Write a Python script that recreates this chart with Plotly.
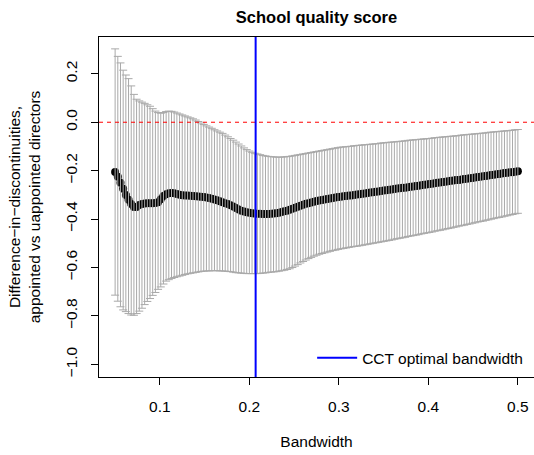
import plotly.graph_objects as go

# ---------------- data ----------------
bandwidth = [
    0.050, 0.053, 0.056, 0.059, 0.062, 0.065, 0.068, 0.071, 0.074, 0.077,
    0.080, 0.083, 0.086, 0.089, 0.092, 0.095, 0.098, 0.101, 0.104, 0.107,
    0.110, 0.113, 0.116, 0.119, 0.122, 0.125, 0.128, 0.131, 0.134, 0.137,
    0.140, 0.143, 0.146, 0.149, 0.152, 0.155, 0.158, 0.161, 0.164, 0.167,
    0.170, 0.173, 0.176, 0.179, 0.182, 0.185, 0.188, 0.191, 0.194, 0.197,
    0.200, 0.203, 0.206, 0.209, 0.212, 0.215, 0.218, 0.221, 0.224, 0.227,
    0.230, 0.233, 0.236, 0.239, 0.242, 0.245, 0.248, 0.251, 0.254, 0.257,
    0.260, 0.263, 0.266, 0.269, 0.272, 0.275, 0.278, 0.281, 0.284, 0.287,
    0.290, 0.293, 0.296, 0.299, 0.302, 0.305, 0.308, 0.311, 0.314, 0.317,
    0.320, 0.323, 0.326, 0.329, 0.332, 0.335, 0.338, 0.341, 0.344, 0.347,
    0.350, 0.353, 0.356, 0.359, 0.362, 0.365, 0.368, 0.371, 0.374, 0.377,
    0.380, 0.383, 0.386, 0.389, 0.392, 0.395, 0.398, 0.401, 0.404, 0.407,
    0.410, 0.413, 0.416, 0.419, 0.422, 0.425, 0.428, 0.431, 0.434, 0.437,
    0.440, 0.443, 0.446, 0.449, 0.452, 0.455, 0.458, 0.461, 0.464, 0.467,
    0.470, 0.473, 0.476, 0.479, 0.482, 0.485, 0.488, 0.491, 0.494, 0.497,
    0.500,
]

estimate = [
    -0.205, -0.225, -0.250, -0.275, -0.300, -0.320, -0.338, -0.350, -0.350, -0.342,
    -0.338, -0.336, -0.335, -0.334, -0.334, -0.333, -0.330, -0.318, -0.305, -0.297,
    -0.293, -0.292, -0.293, -0.296, -0.299, -0.301, -0.302, -0.303, -0.304, -0.305,
    -0.306, -0.307, -0.308, -0.309, -0.311, -0.313, -0.316, -0.319, -0.322, -0.326,
    -0.330, -0.334, -0.338, -0.343, -0.348, -0.354, -0.360, -0.365, -0.369, -0.372,
    -0.374, -0.376, -0.377, -0.378, -0.378, -0.379, -0.379, -0.379, -0.378, -0.377,
    -0.376, -0.374, -0.371, -0.368, -0.365, -0.361, -0.357, -0.353, -0.349, -0.345,
    -0.341, -0.337, -0.334, -0.331, -0.328, -0.325, -0.323, -0.321, -0.319, -0.317,
    -0.315, -0.313, -0.311, -0.309, -0.308, -0.306, -0.305, -0.303, -0.302, -0.300,
    -0.298, -0.297, -0.295, -0.294, -0.292, -0.290, -0.289, -0.287, -0.286, -0.284,
    -0.282, -0.281, -0.279, -0.278, -0.276, -0.274, -0.273, -0.271, -0.270, -0.268,
    -0.266, -0.265, -0.263, -0.262, -0.260, -0.258, -0.257, -0.255, -0.254, -0.252,
    -0.250, -0.249, -0.247, -0.246, -0.244, -0.242, -0.241, -0.239, -0.238, -0.236,
    -0.234, -0.233, -0.231, -0.230, -0.228, -0.226, -0.225, -0.223, -0.222, -0.220,
    -0.218, -0.217, -0.215, -0.214, -0.212, -0.210, -0.209, -0.207, -0.206, -0.204,
    -0.202,
]

ci_upper = [
    0.303, 0.272, 0.245, 0.215, 0.195, 0.180, 0.150, 0.115, 0.095, 0.088,
    0.083, 0.078, 0.072, 0.066, 0.056, 0.046, 0.040, 0.037, 0.040, 0.044,
    0.046, 0.045, 0.042, 0.038, 0.034, 0.030, 0.026, 0.022, 0.018, 0.014,
    0.009, 0.003, -0.003, -0.009, -0.015, -0.020, -0.025, -0.031, -0.036, -0.041,
    -0.046, -0.053, -0.060, -0.067, -0.074, -0.082, -0.090, -0.098, -0.106, -0.113,
    -0.119, -0.124, -0.128, -0.131, -0.134, -0.137, -0.139, -0.141, -0.142, -0.143,
    -0.144, -0.144, -0.144, -0.143, -0.142, -0.141, -0.139, -0.137, -0.135, -0.133,
    -0.131, -0.129, -0.127, -0.125, -0.123, -0.121, -0.119, -0.117, -0.115, -0.113,
    -0.111, -0.109, -0.107, -0.105, -0.103, -0.102, -0.101, -0.100, -0.099, -0.097,
    -0.096, -0.095, -0.094, -0.093, -0.092, -0.091, -0.090, -0.089, -0.088, -0.086,
    -0.085, -0.084, -0.083, -0.082, -0.081, -0.080, -0.079, -0.078, -0.077, -0.075,
    -0.074, -0.073, -0.072, -0.071, -0.070, -0.069, -0.068, -0.067, -0.066, -0.064,
    -0.063, -0.062, -0.061, -0.060, -0.059, -0.058, -0.057, -0.056, -0.055, -0.053,
    -0.052, -0.051, -0.050, -0.049, -0.048, -0.047, -0.046, -0.045, -0.044, -0.042,
    -0.041, -0.040, -0.039, -0.038, -0.037, -0.036, -0.035, -0.034, -0.033, -0.031,
    -0.030,
]

ci_lower = [
    -0.714, -0.739, -0.762, -0.775, -0.782, -0.790, -0.796, -0.797, -0.790, -0.780,
    -0.768, -0.753, -0.740, -0.728, -0.715, -0.703, -0.690, -0.680, -0.668, -0.656,
    -0.650, -0.645, -0.641, -0.638, -0.635, -0.632, -0.629, -0.626, -0.624, -0.622,
    -0.620, -0.618, -0.616, -0.615, -0.614, -0.614, -0.613, -0.613, -0.613, -0.614,
    -0.614, -0.615, -0.616, -0.617, -0.619, -0.621, -0.622, -0.623, -0.624, -0.625,
    -0.625, -0.625, -0.625, -0.625, -0.624, -0.623, -0.622, -0.620, -0.619, -0.618,
    -0.617, -0.615, -0.613, -0.611, -0.608, -0.605, -0.600, -0.594, -0.588, -0.581,
    -0.575, -0.569, -0.563, -0.558, -0.553, -0.549, -0.545, -0.542, -0.539, -0.536,
    -0.533, -0.530, -0.528, -0.525, -0.523, -0.521, -0.519, -0.517, -0.515, -0.513,
    -0.512, -0.510, -0.508, -0.506, -0.504, -0.502, -0.500, -0.498, -0.496, -0.494,
    -0.492, -0.490, -0.488, -0.486, -0.483, -0.481, -0.479, -0.477, -0.475, -0.472,
    -0.470, -0.468, -0.466, -0.464, -0.461, -0.459, -0.457, -0.455, -0.453, -0.450,
    -0.448, -0.446, -0.444, -0.441, -0.439, -0.437, -0.434, -0.432, -0.429, -0.427,
    -0.425, -0.422, -0.420, -0.417, -0.415, -0.412, -0.410, -0.408, -0.405, -0.403,
    -0.400, -0.398, -0.395, -0.393, -0.391, -0.388, -0.386, -0.383, -0.381, -0.378,
    -0.376,
]

cct_bandwidth = 0.207
reference_level = 0.0

x_tickvals = [0.1, 0.2, 0.3, 0.4, 0.5]
x_ticktext = ["0.1", "0.2", "0.3", "0.4", "0.5"]
y_tickvals = [0.2, 0.0, -0.2, -0.4, -0.6, -0.8, -1.0]
y_ticktext = ["0.2", "0.0", "\u22120.2", "\u22120.4", "\u22120.6", "\u22120.8", "\u22121.0"]

# ---------------- figure ----------------
err_plus = [h - e for h, e in zip(ci_upper, estimate)]
err_minus = [e - l for e, l in zip(estimate, ci_lower)]

FONT = "Liberation Sans, Arial, Helvetica, sans-serif"

fig = go.Figure()

# point estimates (drawn first, like R's plot())
fig.add_trace(go.Scatter(
    x=bandwidth, y=estimate, mode="markers",
    marker=dict(color="black", size=8, line=dict(width=0)),
    showlegend=False, hoverinfo="skip",
))

# confidence intervals drawn on top (like R's arrows())
fig.add_trace(go.Scatter(
    x=bandwidth, y=estimate, mode="markers",
    marker=dict(color="rgba(0,0,0,0)", size=1),
    error_y=dict(type="data", symmetric=False, array=err_plus, arrayminus=err_minus,
                 color="#A9A9A9", thickness=1, width=4),
    showlegend=False, hoverinfo="skip",
))

# horizontal reference line at 0 (red dashed)
fig.add_shape(type="line", xref="paper", x0=0, x1=1, yref="y",
              y0=reference_level, y1=reference_level,
              line=dict(color="red", width=1, dash="4px,4px"), layer="above")

# CCT optimal bandwidth vertical line (blue)
fig.add_shape(type="line", xref="x", x0=cct_bandwidth, x1=cct_bandwidth,
              yref="paper", y0=0, y1=1,
              line=dict(color="#0000FF", width=2), layer="above",
              showlegend=True, name="CCT optimal bandwidth")

fig.update_layout(
    width=534, height=455,
    margin=dict(l=99, r=0, t=37, b=78),
    plot_bgcolor="white", paper_bgcolor="white",
    font=dict(family=FONT, size=15.5, color="black"),
    title=dict(text="<b>School quality score</b>", x=0.5, xref="paper",
               y=1 - 17 / 455, yref="container", xanchor="center", yanchor="middle",
               font=dict(size=16.5, family=FONT, color="black")),
    legend=dict(x=0.49, y=0.005, xanchor="left", yanchor="bottom",
                bgcolor="rgba(0,0,0,0)", borderwidth=0, itemwidth=40,
                font=dict(size=15.5, family=FONT, color="black")),
    showlegend=True,
)

fig.update_xaxes(
    range=[0.032, 0.518], tickvals=x_tickvals, ticktext=x_ticktext,
    ticks="outside", ticklen=7, tickcolor="black", tickwidth=1,
    showline=True, linecolor="black", linewidth=1, mirror=True,
    showgrid=False, zeroline=False, ticklabelstandoff=8,
    title=dict(text="Bandwidth", standoff=22, font=dict(size=15.5)),
)
fig.update_yaxes(
    range=[-1.052, 0.352], tickvals=y_tickvals, ticktext=y_ticktext,
    ticks="outside", ticklen=7, tickcolor="black", tickwidth=1, tickangle=-90,
    showline=True, linecolor="black", linewidth=1, mirror=False,
    showgrid=False, zeroline=False, ticklabelstandoff=8,
    title=dict(text="Difference\u2212in\u2212discontinuities,<br>appointed vs uappointed directors",
               standoff=18, font=dict(size=15.5)),
)

fig.write_html("out.html")
